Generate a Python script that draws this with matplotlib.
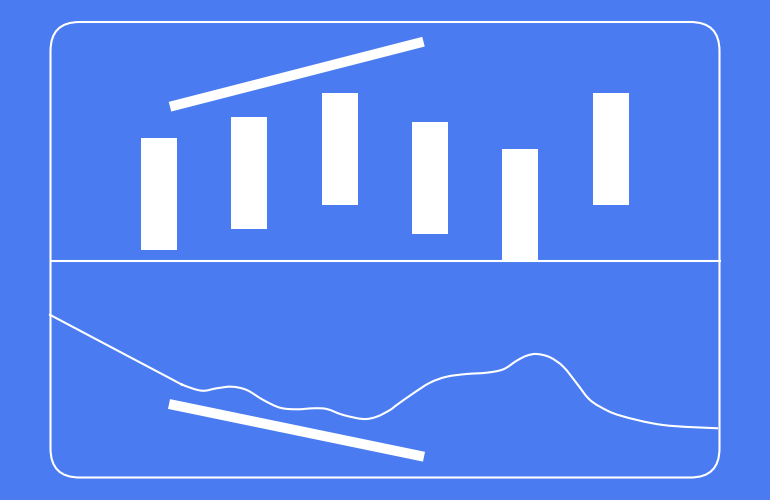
import matplotlib
matplotlib.use("Agg")
import matplotlib.pyplot as plt
from matplotlib.patches import FancyBboxPatch, PathPatch
from matplotlib.path import Path

BG = "#4a7bf0"
WHITE = "white"

# floating bars (pixel space, y grows downward)
bar_x = [159, 249, 339.5, 430, 520, 610.5]
bar_top = [138, 117, 93, 122, 149, 93]
bar_bottom = [250, 229, 205, 234, 261, 205]

# trend lines
upper_trend_x = [170, 423.5]
upper_trend_y = [106.7, 41.7]
lower_trend_x = [169, 424]
lower_trend_y = [404, 456.7]

# oscillator curve
curve_x = [49, 170, 183, 201.7, 216.7, 231.7, 246.7, 263.3, 280, 296.7, 313.3,
           326.7, 343.3, 363.3, 376.7, 390, 396.7, 413.3, 430, 446.7, 466.7,
           486.7, 503.3, 516.7, 526.7, 536.7, 550, 563.3, 576.7, 588.3, 600,
           620, 663, 718]
curve_y = [314.3, 378.3, 385, 390.7, 388.3, 386.7, 390, 400, 407.7, 409.3, 408.3,
           409, 415, 419, 416.7, 410, 405, 393.3, 382.7, 376.7, 374,
           372.7, 369.3, 360.7, 355.7, 354, 357.3, 366.7, 383.3, 398.3, 406.7,
           415.5, 425, 428.3]


def smooth_path(xs, ys):
    # cubic bezier segments through the read points (catmull-rom handles)
    pts = list(zip(xs, ys))
    verts = [pts[0]]
    codes = [Path.MOVETO]
    for i in range(len(pts) - 1):
        p0 = pts[i - 1] if i > 0 else pts[i]
        p1, p2 = pts[i], pts[i + 1]
        p3 = pts[i + 2] if i + 2 < len(pts) else pts[i + 1]
        c1 = (p1[0] + (p2[0] - p0[0]) / 6, p1[1] + (p2[1] - p0[1]) / 6)
        c2 = (p2[0] - (p3[0] - p1[0]) / 6, p2[1] - (p3[1] - p1[1]) / 6)
        verts += [c1, c2, p2]
        codes += [Path.CURVE4] * 3
    return Path(verts, codes)


fig = plt.figure(figsize=(7.7, 5), dpi=100, facecolor=BG)
ax = fig.add_axes([0, 0, 1, 1])
ax.set_facecolor(BG)
ax.set_xlim(0, 770)
ax.set_ylim(500, 0)
ax.axis("off")

# panel outline
frame = FancyBboxPatch((50.5, 22), 669, 455.5, boxstyle="round,pad=0,rounding_size=29",
                       fill=False, edgecolor=WHITE, linewidth=1.5)
ax.add_patch(frame)
ax.plot([50.5, 719.5], [261, 261], color=WHITE, linewidth=1.5)

heights = [b - t for t, b in zip(bar_top, bar_bottom)]
ax.bar(bar_x, heights, bottom=bar_top, width=36, color=WHITE, edgecolor="none")

ax.plot(upper_trend_x, upper_trend_y, color=WHITE, linewidth=7.2, solid_capstyle="butt")
ax.plot(lower_trend_x, lower_trend_y, color=WHITE, linewidth=7.2, solid_capstyle="butt")

ax.add_patch(PathPatch(smooth_path(curve_x, curve_y), fill=False,
                       edgecolor=WHITE, linewidth=1.5, joinstyle="round"))

fig.savefig("out.png", dpi=100, facecolor=BG)
